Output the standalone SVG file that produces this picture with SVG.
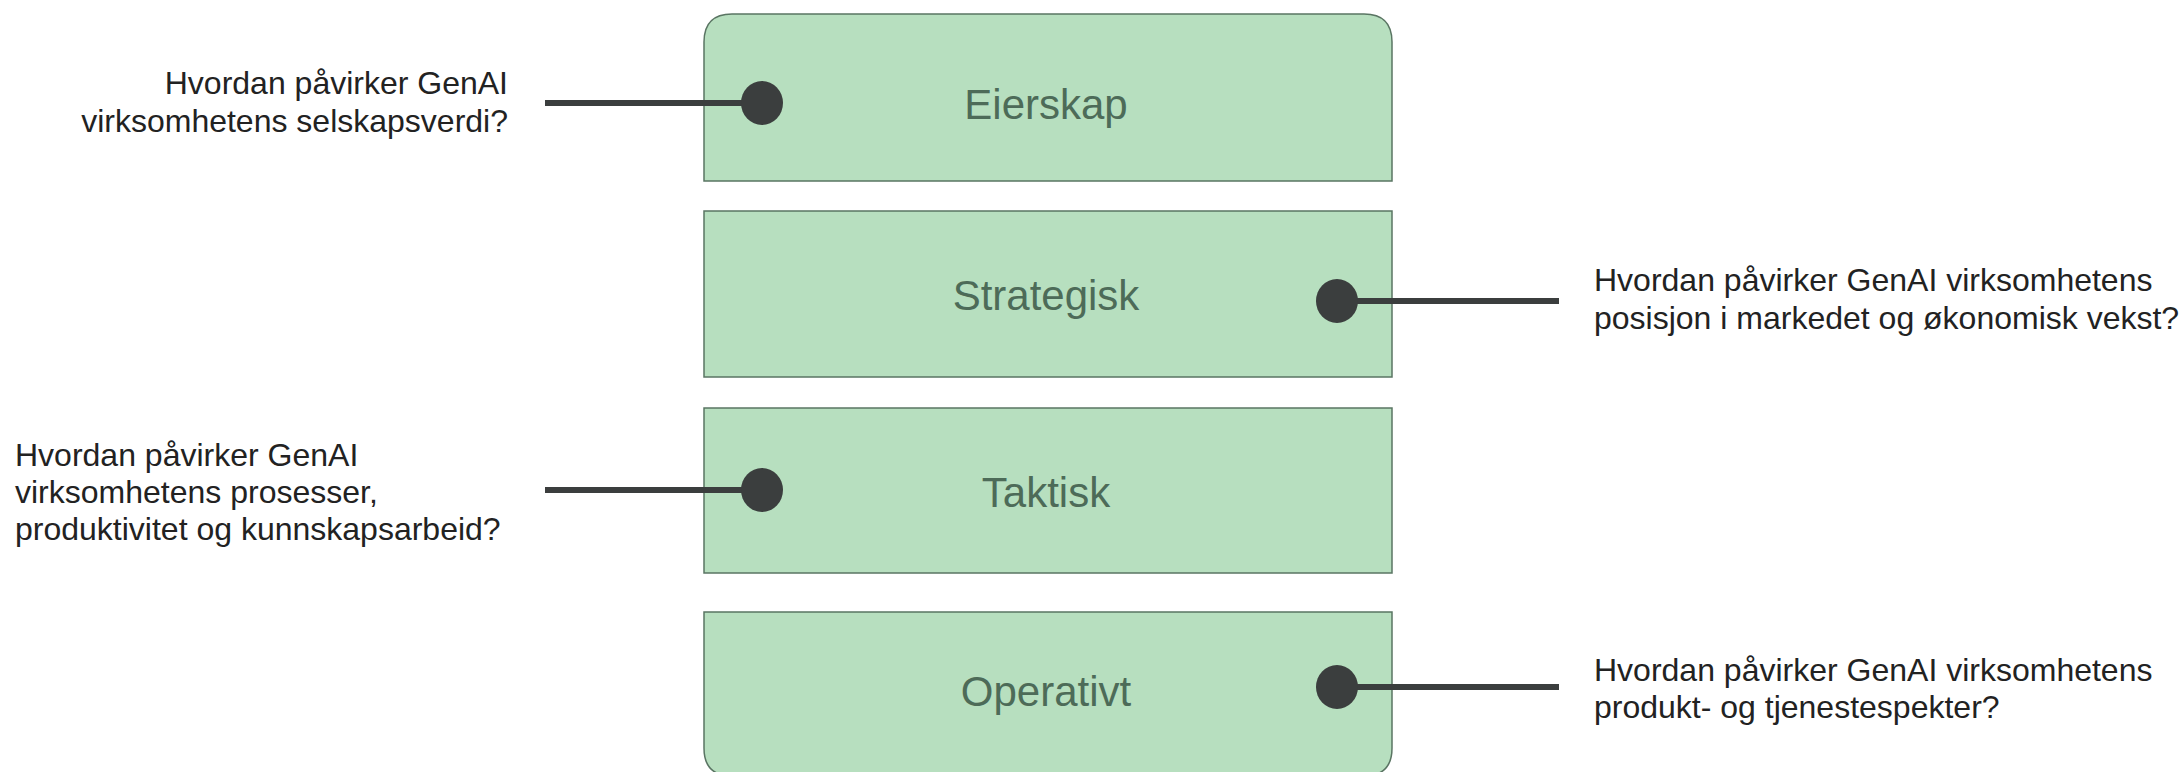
<svg xmlns="http://www.w3.org/2000/svg" width="2181" height="772" viewBox="0 0 2181 772">
<style>
.box{fill:#b7dfbf;stroke:#5a7563;stroke-width:1.5}
.lbl{font-family:"Liberation Sans",Arial,sans-serif;font-size:42px;fill:#4d6b58;text-anchor:middle}
.q{font-family:"Liberation Sans",Arial,sans-serif;font-size:32px;fill:#222}
.con{stroke:#3b3e3e;stroke-width:6;fill:none}
.dot{fill:#3b3e3e}
</style>
<rect width="2181" height="772" fill="#fff"/>
<g id="eierskap">
<path class="box" d="M704,181 V42 Q704,14 732,14 H1364 Q1392,14 1392,42 V181 Z"/>
<text class="lbl" x="1046" y="119">Eierskap</text>
</g>
<g id="strategisk">
<rect class="box" x="704" y="211" width="688" height="166"/>
<text class="lbl" x="1046" y="310">Strategisk</text>
</g>
<g id="taktisk">
<rect class="box" x="704" y="408" width="688" height="165"/>
<text class="lbl" x="1046" y="507">Taktisk</text>
</g>
<g id="operativt">
<path class="box" d="M704,612 H1392 V748 Q1392,776 1364,776 H732 Q704,776 704,748 Z"/>
<text class="lbl" x="1046" y="706">Operativt</text>
</g>
<g id="q1">
<text class="q" text-anchor="end"><tspan x="508" y="94">Hvordan påvirker GenAI</tspan><tspan x="508" y="132">virksomhetens selskapsverdi?</tspan></text>
</g>
<g id="q2">
<text class="q"><tspan x="1594" y="291">Hvordan påvirker GenAI virksomhetens</tspan><tspan x="1594" y="329">posisjon i markedet og økonomisk vekst?</tspan></text>
</g>
<g id="q3">
<text class="q"><tspan x="15" y="466">Hvordan påvirker GenAI</tspan><tspan x="15" y="503">virksomhetens prosesser,</tspan><tspan x="15" y="540">produktivitet og kunnskapsarbeid?</tspan></text>
</g>
<g id="q4">
<text class="q"><tspan x="1594" y="681">Hvordan påvirker GenAI virksomhetens</tspan><tspan x="1594" y="718">produkt- og tjenestespekter?</tspan></text>
</g>
<g id="connectors">
<line class="con" x1="545" y1="103" x2="762" y2="103"/>
<ellipse class="dot" cx="762" cy="103" rx="21" ry="22"/>
<line class="con" x1="1337" y1="301" x2="1559" y2="301"/>
<ellipse class="dot" cx="1337" cy="301" rx="21" ry="22"/>
<line class="con" x1="545" y1="490" x2="762" y2="490"/>
<ellipse class="dot" cx="762" cy="490" rx="21" ry="22"/>
<line class="con" x1="1337" y1="687" x2="1559" y2="687"/>
<ellipse class="dot" cx="1337" cy="687" rx="21" ry="22"/>
</g>
</svg>
